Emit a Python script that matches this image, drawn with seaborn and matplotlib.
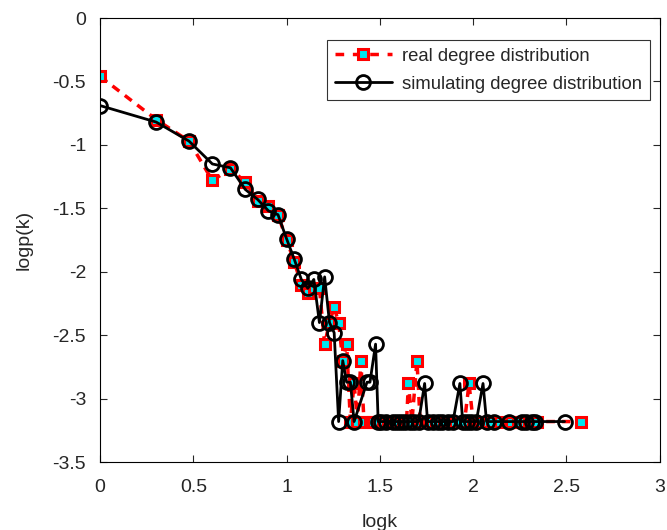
import matplotlib
matplotlib.use("Agg")
import matplotlib.pyplot as plt
import seaborn as sns
import pandas as pd

# real degree distribution (logk, logp(k))
real_logk = [0.0, 0.301, 0.477, 0.602, 0.699, 0.778, 0.845, 0.903, 0.954, 1.0,
             1.041, 1.079, 1.114, 1.146, 1.176, 1.204, 1.230, 1.255, 1.279, 1.301,
             1.322, 1.342, 1.362, 1.380, 1.398, 1.415, 1.447, 1.462, 1.491, 1.519,
             1.544, 1.556, 1.580, 1.602, 1.623, 1.643, 1.653, 1.672, 1.699, 1.716,
             1.740, 1.763, 1.778, 1.799, 1.820, 1.845, 1.857, 1.875, 1.903, 1.929,
             1.954, 1.978, 2.000, 2.021, 2.041, 2.079, 2.100, 2.146, 2.204, 2.243,
             2.279, 2.301, 2.322, 2.342, 2.580]
real_logp = [-0.46, -0.80, -0.97, -1.28, -1.19, -1.29, -1.44, -1.48, -1.55, -1.75,
             -1.92, -2.10, -2.17, -2.13, -2.13, -2.57, -2.40, -2.28, -2.40, -2.70,
             -2.57, -3.18, -2.88, -3.18, -2.70, -3.18, -3.18, -3.18, -3.18, -3.18,
             -3.18, -3.18, -3.18, -3.18, -3.18, -3.18, -2.88, -3.18, -2.70, -3.18,
             -3.18, -3.18, -3.18, -3.18, -3.18, -3.18, -3.18, -3.18, -3.18, -3.18,
             -3.18, -2.88, -3.18, -3.18, -3.18, -3.18, -3.18, -3.18, -3.18, -3.18,
             -3.18, -3.18, -3.18, -3.18, -3.18]

# simulating degree distribution
sim_logk = [0.0, 0.301, 0.477, 0.602, 0.699, 0.778, 0.845, 0.903, 0.954, 1.0,
            1.041, 1.079, 1.114, 1.146, 1.176, 1.204, 1.230, 1.255, 1.279, 1.301,
            1.322, 1.342, 1.362, 1.431, 1.447, 1.477, 1.491, 1.505, 1.531, 1.568,
            1.591, 1.613, 1.633, 1.663, 1.681, 1.708, 1.740, 1.756, 1.785, 1.813,
            1.833, 1.863, 1.892, 1.929, 1.944, 1.968, 1.987, 2.017, 2.053, 2.072,
            2.114, 2.190, 2.260, 2.286, 2.318, 2.334, 2.490]
sim_logp = [-0.69, -0.82, -0.97, -1.15, -1.18, -1.35, -1.43, -1.52, -1.55, -1.74,
            -1.90, -2.06, -2.13, -2.06, -2.40, -2.04, -2.40, -2.48, -3.18, -2.70,
            -2.87, -2.87, -3.18, -2.87, -2.87, -2.57, -3.18, -3.18, -3.18, -3.18,
            -3.18, -3.18, -3.18, -3.18, -3.18, -3.18, -2.88, -3.18, -3.18, -3.18,
            -3.18, -3.18, -3.18, -2.88, -3.18, -3.18, -3.18, -3.18, -2.88, -3.18,
            -3.18, -3.18, -3.18, -3.18, -3.18, -3.18, -3.18]

x_ticks = [0, 0.5, 1, 1.5, 2, 2.5, 3]
x_labels = ["0", "0.5", "1", "1.5", "2", "2.5", "3"]
y_ticks = [0, -0.5, -1, -1.5, -2, -2.5, -3, -3.5]
y_labels = ["0", "-0.5", "-1", "-1.5", "-2", "-2.5", "-3", "-3.5"]

df_real = pd.DataFrame({"logk": real_logk, "logp": real_logp})
df_sim = pd.DataFrame({"logk": sim_logk, "logp": sim_logp})

sns.set_theme(style="white")
plt.rcParams["font.family"] = ["Liberation Sans", "DejaVu Sans"]

fig = plt.figure(figsize=(6.67, 5.30), dpi=100)
ax = fig.add_axes([0.150, 0.128, 0.839, 0.838])

sns.lineplot(data=df_real, x="logk", y="logp", ax=ax, sort=False, estimator=None,
             color="red", linestyle="--", linewidth=2.5,
             marker="s", markersize=7, markerfacecolor="#00e5ee",
             markeredgecolor="red", markeredgewidth=2.2,
             label="real degree distribution")
sns.lineplot(data=df_sim, x="logk", y="logp", ax=ax, sort=False, estimator=None,
             color="black", linewidth=2.0,
             marker="o", markersize=10, markerfacecolor="none",
             markeredgecolor="black", markeredgewidth=2.0,
             label="simulating degree distribution")

ax.lines[0].set_dashes([2.5, 2])

ax.set_xlim(0, 3)
ax.set_ylim(-3.5, 0)
ax.set_xticks(x_ticks)
ax.set_xticklabels(x_labels)
ax.set_yticks(y_ticks)
ax.set_yticklabels(y_labels)
ax.set_xlabel("logk", fontsize=14, labelpad=13)
ax.set_ylabel("logp(k)", fontsize=14, labelpad=14)
ax.tick_params(direction="in", length=5, width=0.8, labelsize=14,
               top=True, right=True, bottom=True, left=True)
ax.tick_params(axis="x", pad=12)
ax.tick_params(axis="y", pad=10)
for s in ax.spines.values():
    s.set_color("black")
    s.set_linewidth(0.8)

leg = ax.legend(loc="upper right", bbox_to_anchor=(0.982, 0.950), borderaxespad=0,
                fontsize=13.3, frameon=True, fancybox=False, handlelength=3.1,
                handletextpad=0.55, borderpad=0.4, labelspacing=0.6)
leg.get_frame().set_edgecolor("black")
leg.get_frame().set_linewidth(0.8)
leg.get_lines()[0].set_dashes([2.5, 2.5])

fig.savefig("out.png", dpi=100)
